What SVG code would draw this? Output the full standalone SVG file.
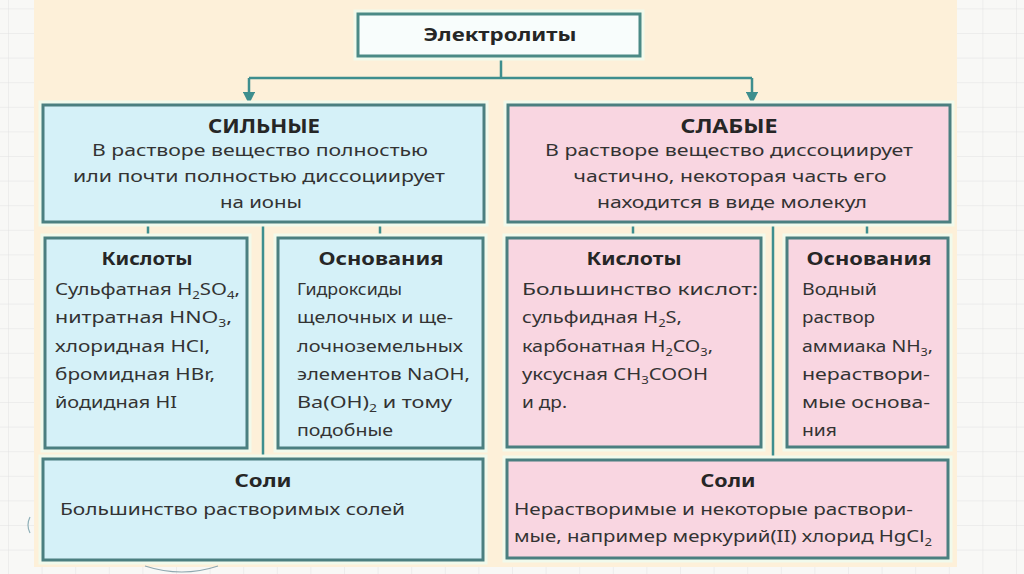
<svg xmlns="http://www.w3.org/2000/svg" width="1024" height="574" viewBox="0 0 1024 574">
<defs>
<pattern id="grid" x="8" y="8.4" width="33.6" height="24.6" patternUnits="userSpaceOnUse">
<path d="M0 0H33.6M0 0V24.6" fill="none" stroke="#e2e2e2" stroke-width="1"/>
</pattern>
<marker id="arr" viewBox="0 0 10 10" refX="9" refY="5" markerWidth="5" markerHeight="5" orient="auto" markerUnits="strokeWidth">
<path d="M0 0L10 5L0 10Z" fill="#3e8e8e"/>
</marker>
</defs>
<style>
.halo{fill:none;stroke:#f1faec;stroke-width:9}
.blue{fill:#d5f1f8;stroke:#4b7f80;stroke-width:3}
.pink{fill:#f9d6e1;stroke:#4b7f80;stroke-width:3}
.white{fill:#f8fdfc;stroke:#4b8a86;stroke-width:3}
text{font-family:"Noto Sans","Open Sans","DejaVu Sans",sans-serif;fill:#333333;font-size:17px}
.h{font-weight:bold;fill:#262626;text-anchor:middle}
.hb{font-size:19px}
.c{text-anchor:middle}
.s{font-size:11px}
.con{fill:none;stroke:#3e8e8e;stroke-width:2.5}
</style>
<rect x="0" y="0" width="1024" height="574" fill="#f8f8f6"/>
<rect x="0" y="0" width="1024" height="574" fill="url(#grid)"/>
<rect x="34" y="0" width="923" height="567" fill="#fdf0d9"/>
<path d="M30 517Q26 525 30 533" fill="none" stroke="#8fb0b8" stroke-width="1.2"/>
<path d="M145 566Q182 578 218 566" fill="none" stroke="#8fa8b0" stroke-width="1.2"/>

<g id="connectors">
<path class="con" d="M501 56V78M249 78H752"/>
<path class="con" d="M249 78V103" marker-end="url(#arr)"/>
<path class="con" d="M752 78V103" marker-end="url(#arr)"/>
<path class="con" d="M148 222V237M380 222V237M263 222V459"/>
<path class="con" d="M633 222V237M867 222V237M773 222V459"/>
</g>

<g id="electrolytes">
<rect class="halo" x="358" y="14" width="282" height="42"/>
<rect class="white" x="358" y="14" width="282" height="42"/>
<text class="h" x="500" y="41" textLength="153" lengthAdjust="spacingAndGlyphs">Электролиты</text>
</g>

<g id="strong">
<rect class="halo" x="43" y="105" width="441" height="117"/>
<rect class="blue" x="43" y="105" width="441" height="117"/>
<text class="h hb" x="264" y="133" textLength="112" lengthAdjust="spacingAndGlyphs">СИЛЬНЫЕ</text>
<text class="c" x="260" y="156" textLength="336" lengthAdjust="spacingAndGlyphs">В растворе вещество полностью</text>
<text class="c" x="259" y="182" textLength="372" lengthAdjust="spacingAndGlyphs">или почти полностью диссоциирует</text>
<text class="c" x="261" y="208" textLength="82" lengthAdjust="spacingAndGlyphs">на ионы</text>
</g>

<g id="weak">
<rect class="halo" x="508" y="105" width="442" height="117"/>
<rect class="pink" x="508" y="105" width="442" height="117"/>
<text class="h hb" x="729" y="133" textLength="97" lengthAdjust="spacingAndGlyphs">СЛАБЫЕ</text>
<text class="c" x="729" y="156" textLength="368" lengthAdjust="spacingAndGlyphs">В растворе вещество диссоциирует</text>
<text class="c" x="730" y="182" textLength="313" lengthAdjust="spacingAndGlyphs">частично, некоторая часть его</text>
<text class="c" x="732" y="208" textLength="270" lengthAdjust="spacingAndGlyphs">находится в виде молекул</text>
</g>

<g id="strong-acids">
<rect class="halo" x="45" y="238" width="202" height="210"/>
<rect class="blue" x="45" y="238" width="202" height="210"/>
<text class="h" x="147" y="265" textLength="91" lengthAdjust="spacingAndGlyphs">Кислоты</text>
<text x="55" y="295" textLength="185" lengthAdjust="spacingAndGlyphs">Сульфатная H<tspan class="s" dy="4">2</tspan><tspan dy="-4">SO</tspan><tspan class="s" dy="4">4</tspan><tspan dy="-4">,</tspan></text>
<text x="55" y="323" textLength="177" lengthAdjust="spacingAndGlyphs">нитратная HNO<tspan class="s" dy="4">3</tspan><tspan dy="-4">,</tspan></text>
<text x="55" y="352" textLength="155" lengthAdjust="spacingAndGlyphs">хлоридная HCl,</text>
<text x="55" y="380" textLength="160" lengthAdjust="spacingAndGlyphs">бромидная HBr,</text>
<text x="55" y="408" textLength="122" lengthAdjust="spacingAndGlyphs">йодидная HI</text>
</g>

<g id="strong-bases">
<rect class="halo" x="278" y="238" width="205" height="210"/>
<rect class="blue" x="278" y="238" width="205" height="210"/>
<text class="h" x="381" y="265" textLength="125" lengthAdjust="spacingAndGlyphs">Основания</text>
<text x="297" y="295" textLength="105" lengthAdjust="spacingAndGlyphs">Гидроксиды</text>
<text x="297" y="323" textLength="156" lengthAdjust="spacingAndGlyphs">щелочных и ще-</text>
<text x="297" y="352" textLength="166" lengthAdjust="spacingAndGlyphs">лочноземельных</text>
<text x="297" y="380" textLength="173" lengthAdjust="spacingAndGlyphs">элементов NaOH,</text>
<text x="297" y="408" textLength="155" lengthAdjust="spacingAndGlyphs">Ba(OH)<tspan class="s" dy="4">2</tspan><tspan dy="-4"> и тому</tspan></text>
<text x="297" y="436" textLength="96" lengthAdjust="spacingAndGlyphs">подобные</text>
</g>

<g id="strong-salts">
<rect class="halo" x="43" y="459" width="440" height="101"/>
<rect class="blue" x="43" y="459" width="440" height="101"/>
<text class="h" x="263" y="487" textLength="57" lengthAdjust="spacingAndGlyphs">Соли</text>
<text x="60" y="515" textLength="345" lengthAdjust="spacingAndGlyphs">Большинство растворимых солей</text>
</g>

<g id="weak-acids">
<rect class="halo" x="507" y="238" width="254" height="209"/>
<rect class="pink" x="507" y="238" width="254" height="209"/>
<text class="h" x="634" y="265" textLength="95" lengthAdjust="spacingAndGlyphs">Кислоты</text>
<text x="522" y="295" textLength="236" lengthAdjust="spacingAndGlyphs">Большинство кислот:</text>
<text x="522" y="323" textLength="160" lengthAdjust="spacingAndGlyphs">сульфидная H<tspan class="s" dy="4">2</tspan><tspan dy="-4">S,</tspan></text>
<text x="522" y="352" textLength="191" lengthAdjust="spacingAndGlyphs">карбонатная H<tspan class="s" dy="4">2</tspan><tspan dy="-4">CO</tspan><tspan class="s" dy="4">3</tspan><tspan dy="-4">,</tspan></text>
<text x="522" y="380" textLength="186" lengthAdjust="spacingAndGlyphs">уксусная CH<tspan class="s" dy="4">3</tspan><tspan dy="-4">COOH</tspan></text>
<text x="522" y="408" textLength="45" lengthAdjust="spacingAndGlyphs">и др.</text>
</g>

<g id="weak-bases">
<rect class="halo" x="787" y="238" width="161" height="209"/>
<rect class="pink" x="787" y="238" width="161" height="209"/>
<text class="h" x="869" y="265" textLength="125" lengthAdjust="spacingAndGlyphs">Основания</text>
<text x="802" y="295" textLength="75" lengthAdjust="spacingAndGlyphs">Водный</text>
<text x="802" y="323" textLength="73" lengthAdjust="spacingAndGlyphs">раствор</text>
<text x="802" y="352" textLength="131" lengthAdjust="spacingAndGlyphs">аммиака NH<tspan class="s" dy="4">3</tspan><tspan dy="-4">,</tspan></text>
<text x="802" y="380" textLength="128" lengthAdjust="spacingAndGlyphs">нераствори-</text>
<text x="802" y="408" textLength="128" lengthAdjust="spacingAndGlyphs">мые основа-</text>
<text x="802" y="436" textLength="35" lengthAdjust="spacingAndGlyphs">ния</text>
</g>

<g id="weak-salts">
<rect class="halo" x="507" y="460" width="441" height="98"/>
<rect class="pink" x="507" y="460" width="441" height="98"/>
<text class="h" x="728" y="487" textLength="55" lengthAdjust="spacingAndGlyphs">Соли</text>
<text x="514" y="515" textLength="399" lengthAdjust="spacingAndGlyphs">Нерастворимые и некоторые раствори-</text>
<text x="514" y="542" textLength="418" lengthAdjust="spacingAndGlyphs">мые, например меркурий(II) хлорид HgCl<tspan class="s" dy="4">2</tspan></text>
</g>
</svg>
